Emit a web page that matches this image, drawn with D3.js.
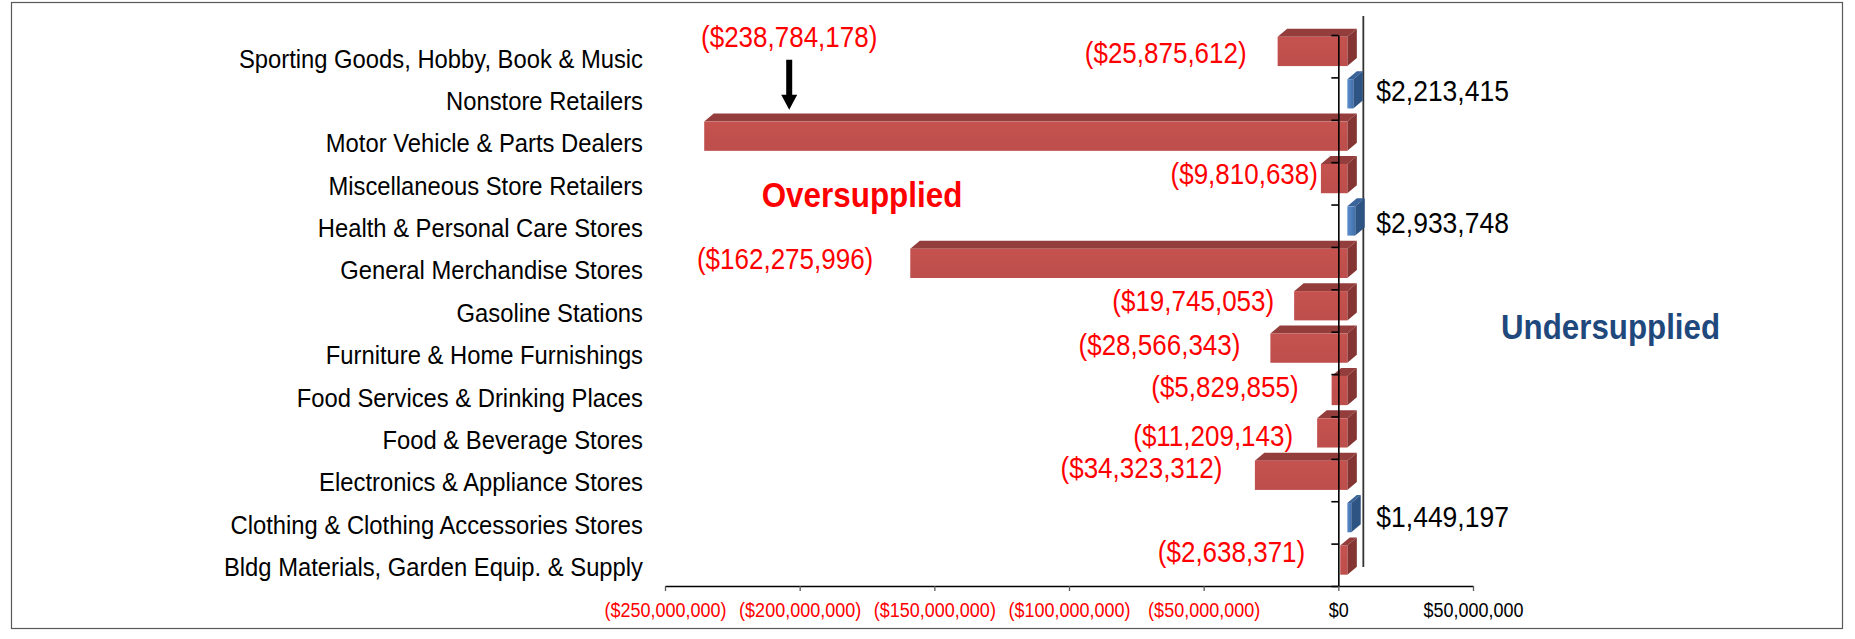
<!DOCTYPE html>
<html><head><meta charset="utf-8">
<script src="https://cdn.jsdelivr.net/npm/d3@7"></script>
<style>
body{margin:0;background:#fff}
svg{display:block}
text{font-family:"Liberation Sans",Arial,Helvetica,sans-serif}
</style>
</head><body>
<svg id="c" width="1855" height="639"></svg>
<script>
// ---- data ----
const categories = [
  "Sporting Goods, Hobby, Book & Music",
  "Nonstore Retailers",
  "Motor Vehicle & Parts Dealers",
  "Miscellaneous Store Retailers",
  "Health & Personal Care Stores",
  "General Merchandise Stores",
  "Gasoline Stations",
  "Furniture & Home Furnishings",
  "Food Services & Drinking Places",
  "Food & Beverage Stores",
  "Electronics & Appliance Stores",
  "Clothing & Clothing Accessories Stores",
  "Bldg Materials, Garden Equip. & Supply"
];
const values = [
  -25875612, 2213415, -238784178, -9810638, 2933748, -162275996,
  -19745053, -28566343, -5829855, -11209143, -34323312, 1449197, -2638371
];
const xTickValues = [-250000000, -200000000, -150000000, -100000000, -50000000, 0, 50000000];
const annotations = ["Oversupplied", "Undersupplied"];

// ---- layout (not data) ----
const labelDx = [-1, 0, 0, 27, 0, -7, 10, 0, -3, 6, -2.5, 0, -5];
const labelDy = [1, -2, 0, -4.5, 3, -5, -5, -3, -3.5, 3, -7, 0, -8];
const calloutIndex = 2;
const SY = 1.12;               // vertical stretch of the original picture
const DX = 9.5, DY = -8;       // 3D depth of bars
const SHIFT = 9;               // front plane offset from axis

const svg = d3.select("#c");

svg.append("rect").attr("x", 11.5).attr("y", 2.5).attr("width", 1831).attr("height", 626)
  .attr("fill", "#fff").attr("stroke", "#595959").attr("stroke-width", 1.2);

const x = d3.scaleLinear().domain([-250000000, 50000000]).range([665, 1473]);
const y = d3.scaleBand().domain(categories).range([35, 586]).padding(0);
const yEdge = d3.scaleLinear().domain([0, categories.length]).range([35, 586]);
const bw = y.bandwidth();

const fmt = v => v < 0 ? "($" + d3.format(",")(-v) + ")" : "$" + d3.format(",")(v);

const defs = svg.append("defs");
const gr = defs.append("linearGradient").attr("id", "gRed").attr("x1", 0).attr("y1", 0).attr("x2", 0).attr("y2", 1);
gr.append("stop").attr("offset", "0%").attr("stop-color", "#C5524F");
gr.append("stop").attr("offset", "100%").attr("stop-color", "#BD4E4B");
const gb = defs.append("linearGradient").attr("id", "gBlue").attr("x1", 0).attr("y1", 0).attr("x2", 1).attr("y2", 0);
gb.append("stop").attr("offset", "0%").attr("stop-color", "#5B8DCC");
gb.append("stop").attr("offset", "100%").attr("stop-color", "#416FAA");

function txt(g, px, py, s, size, fill, anchor, weight, center) {
  const t = g.append("text")
    .attr("transform", `translate(${px},${py}) scale(1,${SY})`)
    .attr("font-size", size)
    .attr("fill", fill)
    .attr("text-anchor", anchor)
    .text(s);
  if (weight) t.attr("font-weight", weight);
  if (center) t.attr("dy", "0.35em");
  return t;
}

// ---- back wall line ----
const x0 = x(0);
svg.append("line")
  .attr("x1", x0 + 25).attr("x2", x0 + 25)
  .attr("y1", 35 - 19).attr("y2", 586 - 19)
  .attr("stroke", "#333").attr("stroke-width", 1.8);

// ---- bars ----
const gBars = svg.append("g");
categories.forEach((c, i) => {
  const v = values[i];
  const a = x(Math.min(v, 0)) + SHIFT;
  const b = x(Math.max(v, 0)) + SHIFT;
  const yT = y(c) + bw * 0.043;
  const yB = yT + bw * 0.69;
  const neg = v < 0;
  const front = neg ? "url(#gRed)" : "url(#gBlue)";
  const top = neg ? "#933E3C" : "#3A6399";
  const side = neg ? "#843533" : "#2E5484";
  gBars.append("polygon")
    .attr("points", [[a, yT], [a + DX, yT + DY], [b + DX, yT + DY], [b, yT]].join(" "))
    .attr("fill", top);
  gBars.append("polygon")
    .attr("points", [[b, yT], [b + DX, yT + DY], [b + DX, yB + DY], [b, yB]].join(" "))
    .attr("fill", side);
  gBars.append("rect")
    .attr("x", a).attr("y", yT).attr("width", Math.max(b - a, 0.5)).attr("height", yB - yT)
    .attr("fill", front);
});

// ---- category axis ----
const gy = svg.append("g").attr("transform", `translate(${x0},0)`)
  .call(d3.axisLeft(yEdge).tickValues(d3.range(categories.length + 1)).tickSize(7).tickSizeOuter(0).tickFormat(""));
gy.select(".domain").attr("stroke", "#000").attr("stroke-width", 1.6);
gy.selectAll(".tick line").attr("stroke", "#000").attr("stroke-width", 1.6);

// ---- value axis ----
const gx = svg.append("g").attr("transform", `translate(0,586)`)
  .call(d3.axisBottom(x).tickValues(xTickValues).tickSize(5).tickSizeOuter(0).tickFormat(fmt));
gx.select(".domain").attr("stroke", "#000").attr("stroke-width", 1.3);
gx.selectAll(".tick line").attr("stroke", "#595959").attr("stroke-width", 1.3);
gx.selectAll(".tick text")
  .attr("y", null).attr("dy", "0.35em")
  .attr("transform", `translate(0,24) scale(1,${SY})`)
  .attr("font-size", 18)
  .attr("font-family", '"Liberation Sans",Arial,sans-serif')
  .attr("fill", d => d < 0 ? "#FF0000" : "#000");

// ---- category labels ----
const gl = svg.append("g");
categories.forEach(c => {
  txt(gl, 643, y(c) + bw / 2 + 2, c, 23.8, "#000", "end", null, true);
});

// ---- data labels ----
const gd = svg.append("g");
categories.forEach((c, i) => {
  const v = values[i];
  const a = x(Math.min(v, 0)) + SHIFT;
  const yC = y(c) + bw * 0.043 + bw * 0.345;
  if (i === calloutIndex) {
    const cx = a + 85;
    txt(gd, cx, y(c) - 73, fmt(v), 26, "#FF0000", "middle", null, false);
    // arrow pointing to the bar
    const ay0 = y(c) - 60, ay1 = y(c) - 10;
    gd.append("path")
      .attr("d", `M${cx - 3},${ay0} L${cx + 3},${ay0} L${cx + 3},${ay1 - 15} L${cx + 8},${ay1 - 15} L${cx},${ay1} L${cx - 8},${ay1 - 15} L${cx - 3},${ay1 - 15} Z`)
      .attr("fill", "#000");
  } else if (v < 0) {
    txt(gd, a - 30 + labelDx[i], yC + labelDy[i], fmt(v), 26, "#FF0000", "end", null, true);
  } else {
    txt(gd, x0 + 38 + labelDx[i], y(c) + 15 + labelDy[i], fmt(v), 26.5, "#000", "start", null, true);
  }
});

// ---- annotations ----
txt(svg, 761.7, 207.3, annotations[0], 31.4, "#FF0000", "start", "bold", false);
txt(svg, 1501, 339.3, annotations[1], 31.3, "#1F497D", "start", "bold", false);
</script>
</body></html>
